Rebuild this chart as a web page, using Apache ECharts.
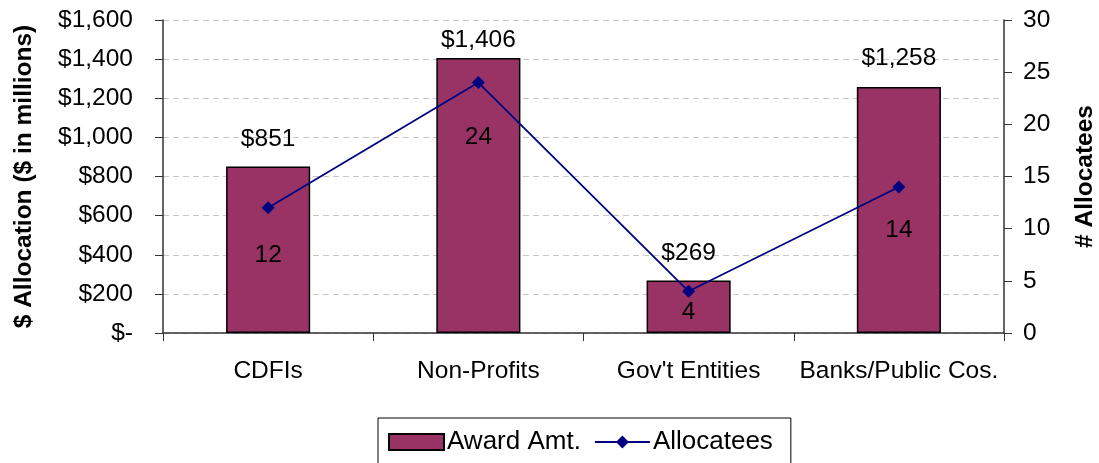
<!DOCTYPE html>
<html>
<head>
<meta charset="utf-8">
<script src="https://cdn.jsdelivr.net/npm/echarts@6/dist/echarts.min.js"></script>
<style>
    html,body{margin:0;padding:0;background:#fff;}
    #chart{width:1099px;height:463px;}
</style>
</head>
<body>
<div id="chart"></div>
<script>
    // 数据
    var categories = ['CDFIs', 'Non-Profits', 'Gov\'t Entities', 'Banks/Public Cos.'];
    var awardAmt = [851, 1406, 269, 1258];
    var allocatees = [12, 24, 4, 14];
    var leftTicks = [0, 1600, 200];   // min, max, interval
    var rightTicks = [0, 30, 5];

    var fontFamily = '"Liberation Sans", Arial, sans-serif';
    var fs = 24.5;

    function money(v){
        if (v === 0) return '$-';
        return '$' + String(v).replace(/\B(?=(\d{3})+(?!\d))/g, ',');
    }

    // 标签位置微调（和Excel原图对齐）
    var barLabelDist = [15, 5, 15, 16];
    var lineLabelDist = [28, 36, 2, 24];

    var option = {
        animation: false,
        textStyle: {fontFamily: fontFamily},
        grid: {left: 163, right: 95, top: 20, bottom: 130, containLabel: false, outerBoundsMode: 'none'},
        legend: {
            left: 378,
            top: 418,
            itemWidth: 55,
            itemHeight: 16,
            itemGap: 13,
            padding: [11, 18, 16, 10],
            borderColor: '#000',
            borderWidth: 1,
            textStyle: {fontSize: 26, color: '#000', fontFamily: fontFamily, padding: [0, 0, 0, -2]},
            data: [
                {name: 'Award Amt.', icon: 'rect'},
                {name: 'Allocatees'}
            ]
        },
        xAxis: {
            type: 'category',
            data: categories,
            boundaryGap: true,
            axisLine: {lineStyle: {color: '#333', width: 1.5}},
            axisTick: {show: true, length: 8, lineStyle: {color: '#333'}},
            axisLabel: {fontSize: fs, color: '#000', margin: 26, interval: 0}
        },
        yAxis: [
            {
                type: 'value',
                min: leftTicks[0],
                max: leftTicks[1],
                interval: leftTicks[2],
                name: '$ Allocation ($ in millions)',
                nameLocation: 'middle',
                nameGap: 126,
                nameTextStyle: {fontSize: fs, fontWeight: 'bold', color: '#000'},
                axisLine: {show: true, lineStyle: {color: '#333', width: 1.5}},
                axisTick: {show: true, length: 8, lineStyle: {color: '#333'}},
                axisLabel: {fontSize: fs, color: '#000', margin: 30, formatter: money},
                splitLine: {show: true, lineStyle: {color: '#c8c8c8', type: [6, 4]}}
            },
            {
                type: 'value',
                min: rightTicks[0],
                max: rightTicks[1],
                interval: rightTicks[2],
                name: '# Allocatees',
                nameLocation: 'middle',
                nameGap: 69,
                nameRotate: 90,
                nameTextStyle: {fontSize: fs, fontWeight: 'bold', color: '#000'},
                axisLine: {show: true, lineStyle: {color: '#333', width: 1.5}},
                axisTick: {show: true, length: 8, lineStyle: {color: '#333'}},
                axisLabel: {fontSize: fs, color: '#000', margin: 19},
                splitLine: {show: false}
            }
        ],
        series: [
            {
                name: 'Award Amt.',
                type: 'bar',
                barWidth: '40%',
                data: awardAmt.map(function(v, i){
                    return {value: v, label: {distance: barLabelDist[i]}};
                }),
                itemStyle: {color: '#993366', borderColor: '#000', borderWidth: 1.5},
                label: {
                    show: true,
                    position: 'top',
                    fontSize: fs,
                    color: '#000',
                    formatter: function(p){ return money(p.value); }
                }
            },
            {
                name: 'Allocatees',
                type: 'line',
                yAxisIndex: 1,
                data: allocatees.map(function(v, i){
                    return {value: v, label: {distance: lineLabelDist[i]}};
                }),
                symbol: 'diamond',
                symbolSize: 13,
                lineStyle: {color: '#000080', width: 1.8},
                itemStyle: {color: '#000080'},
                label: {
                    show: true,
                    position: 'bottom',
                    fontSize: fs,
                    color: '#000'
                },
                z: 5
            }
        ]
    };

    var myChart = echarts.init(document.getElementById('chart'));
    myChart.setOption(option);
</script>
</body>
</html>
